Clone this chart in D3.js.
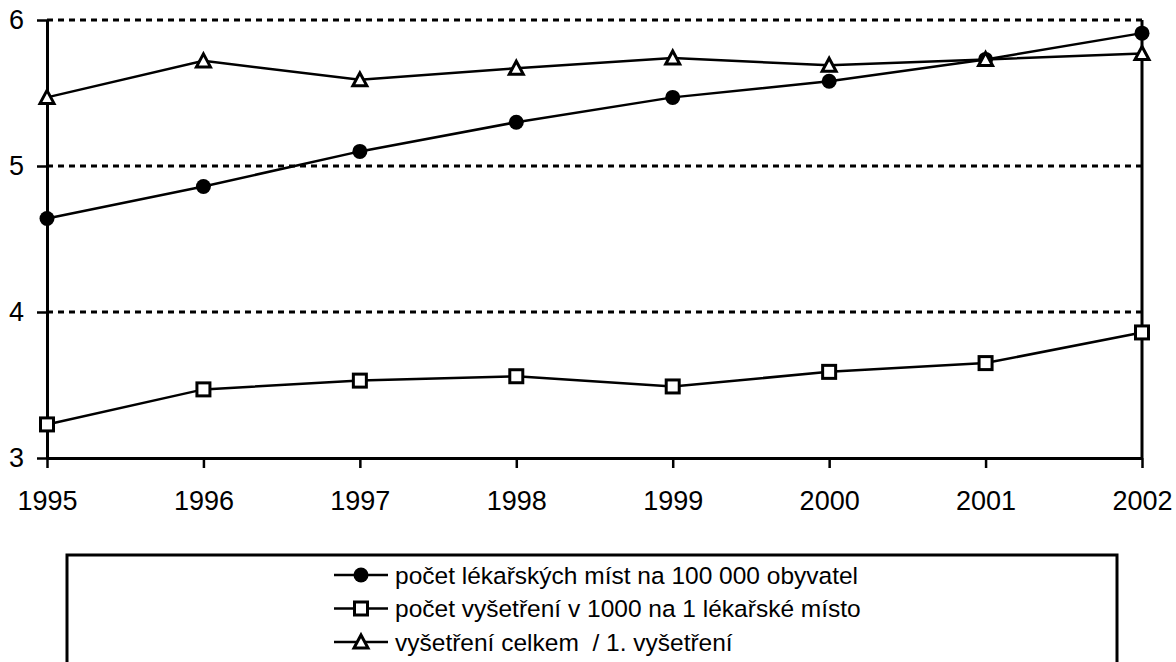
<!DOCTYPE html>
<html>
<head>
<meta charset="utf-8">
<script src="https://cdn.jsdelivr.net/npm/d3@7"></script>
<style>
  body { margin: 0; background: #fff; }
  svg text { font-family: "Liberation Sans Narrow", "Arial Narrow", "Liberation Sans", Arial, sans-serif; fill: #000; white-space: pre; }
</style>
</head>
<body>
<div id="wrapper"></div>
<script>
const years = [1995, 1996, 1997, 1998, 1999, 2000, 2001, 2002];
const mistaValues = [4.64, 4.86, 5.10, 5.30, 5.47, 5.58, 5.73, 5.91];
const vysetreniValues = [3.23, 3.47, 3.53, 3.56, 3.49, 3.59, 3.65, 3.86];
const pomerValues = [5.47, 5.72, 5.59, 5.67, 5.74, 5.69, 5.73, 5.77];
const yTicks = [3, 4, 5, 6];
const seriesNames = [
  "počet lékařských míst na 100 000 obyvatel",
  "počet vyšetření v 1000 na 1 lékařské místo",
  "vyšetření celkem  / 1. vyšetření",
];

const dimensions = {
  width: 1176,
  height: 662,
  margin: { top: 20, right: 34, bottom: 204, left: 47 },
};
dimensions.boundedWidth = dimensions.width - dimensions.margin.left - dimensions.margin.right;
dimensions.boundedHeight = dimensions.height - dimensions.margin.top - dimensions.margin.bottom;

const svg = d3.select("#wrapper")
  .append("svg")
  .attr("width", dimensions.width)
  .attr("height", dimensions.height);

const bounds = svg.append("g")
  .attr("transform", `translate(${dimensions.margin.left},${dimensions.margin.top})`);

const xScale = d3.scalePoint()
  .domain(years)
  .range([0, dimensions.boundedWidth]);

const yScale = d3.scaleLinear()
  .domain([3, 6])
  .range([dimensions.boundedHeight, 0]);

// dashed gridlines (4, 5, 6)
bounds.append("g")
  .selectAll("line")
  .data(yTicks.filter((d) => d > 3))
  .join("line")
  .attr("x1", 0)
  .attr("x2", dimensions.boundedWidth)
  .attr("y1", (d) => yScale(d))
  .attr("y2", (d) => yScale(d))
  .attr("stroke", "#000")
  .attr("stroke-width", 3)
  .attr("stroke-dasharray", "6,5");

// right border
bounds.append("line")
  .attr("x1", dimensions.boundedWidth)
  .attr("x2", dimensions.boundedWidth)
  .attr("y1", 0)
  .attr("y2", dimensions.boundedHeight)
  .attr("stroke", "#000")
  .attr("stroke-width", 3);

const yAxis = bounds.append("g")
  .call(d3.axisLeft(yScale).tickValues(yTicks).tickFormat(d3.format("d")).tickSize(10).tickSizeOuter(0));

const xAxis = bounds.append("g")
  .attr("transform", `translate(0,${dimensions.boundedHeight})`)
  .call(d3.axisBottom(xScale).tickSize(10).tickSizeOuter(0));

[yAxis, xAxis].forEach((ax) => {
  ax.attr("font-family", null).attr("font-size", 27);
  ax.select(".domain").attr("stroke", "#000").attr("stroke-width", 3);
  ax.selectAll(".tick line").attr("stroke", "#000").attr("stroke-width", 2.5);
});
yAxis.selectAll(".tick text").attr("x", -23);
xAxis.selectAll(".tick text").attr("y", 33);

const series = [
  { name: seriesNames[0], values: mistaValues, marker: "circle" },
  { name: seriesNames[1], values: vysetreniValues, marker: "square" },
  { name: seriesNames[2], values: pomerValues, marker: "triangle" },
];

const lineGenerator = d3.line()
  .x((d, i) => xScale(years[i]))
  .y((d) => yScale(d));

function drawMarker(sel, type) {
  if (type === "circle") {
    sel.append("circle").attr("r", 7.5).attr("fill", "#000");
  } else if (type === "square") {
    sel.append("rect")
      .attr("x", -6.5).attr("y", -6.5).attr("width", 13).attr("height", 13)
      .attr("fill", "#fff").attr("stroke", "#000").attr("stroke-width", 3);
  } else {
    sel.append("path")
      .attr("d", "M0,-7L7,6L-7,6Z")
      .attr("fill", "#fff").attr("stroke", "#000").attr("stroke-width", 3)
      .attr("stroke-linejoin", "miter");
  }
}

series.forEach((s) => {
  bounds.append("path")
    .attr("d", lineGenerator(s.values))
    .attr("fill", "none")
    .attr("stroke", "#000")
    .attr("stroke-width", 2.5);

  bounds.append("g")
    .selectAll("g")
    .data(s.values)
    .join("g")
    .attr("transform", (d, i) => `translate(${xScale(years[i])},${yScale(d)})`)
    .each(function () { drawMarker(d3.select(this), s.marker); });
});

// legend
const legend = svg.append("g");
legend.append("rect")
  .attr("x", 67)
  .attr("y", 555)
  .attr("width", 1050)
  .attr("height", 130)
  .attr("fill", "none")
  .attr("stroke", "#000")
  .attr("stroke-width", 3);

const legendRows = legend.selectAll("g.row")
  .data(series)
  .join("g")
  .attr("class", "row")
  .attr("transform", (d, i) => `translate(361,${575 + i * 33.5})`);

legendRows.append("line")
  .attr("x1", -27).attr("x2", 27)
  .attr("stroke", "#000").attr("stroke-width", 2.5);

legendRows.each(function (d) { drawMarker(d3.select(this), d.marker); });

legendRows.append("text")
  .attr("x", 34)
  .attr("dy", "0.35em")
  .attr("font-size", 24.5)
  .text((d) => d.name);
</script>
</body>
</html>
